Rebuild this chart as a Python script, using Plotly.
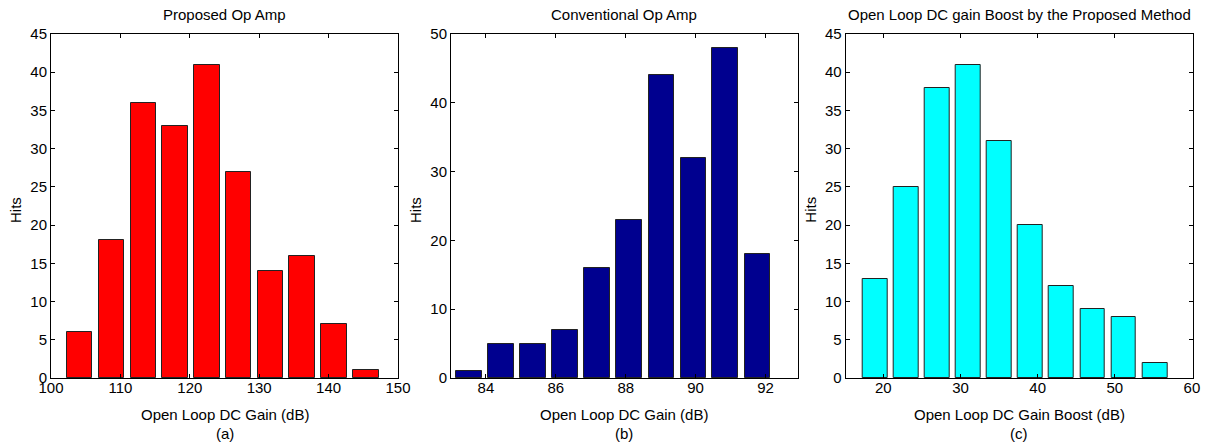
import plotly.graph_objects as go

# ---- data ----
bins_a = [104.1, 108.7, 113.3, 117.9, 122.5, 127.0, 131.6, 136.2, 140.8, 145.4]
hits_a = [6, 18, 36, 33, 41, 27, 14, 16, 7, 1]

bins_b = [83.51, 84.43, 85.35, 86.26, 87.18, 88.10, 89.02, 89.94, 90.85, 91.77]
hits_b = [1, 5, 5, 7, 16, 23, 44, 32, 48, 18]

bins_c = [18.92, 22.95, 26.98, 31.01, 35.04, 39.07, 43.10, 47.13, 51.16, 55.21]
hits_c = [13, 25, 38, 41, 31, 20, 12, 9, 8, 2]

titles = ["Proposed Op Amp", "Conventional Op Amp", "Open Loop DC gain Boost by the Proposed Method"]
xlabels = ["Open Loop DC Gain (dB)", "Open Loop DC Gain (dB)", "Open Loop DC Gain Boost (dB)"]
sublabels = ["(a)", "(b)", "(c)"]
ylabel = "Hits"

W, H = 1207, 446
FONT = "Liberation Sans, Arial, sans-serif"

fig = go.Figure()

panels = [
    dict(x=bins_a, y=hits_a, color="#FF0000", step=4.59, xd=(51, 398), xr=[100, 150], xt=[100, 110, 120, 130, 140, 150], yr=[0, 45], yd=5),
    dict(x=bins_b, y=hits_b, color="#00008F", step=0.918, xd=(451, 798), xr=[83.0, 92.93], xt=[84, 86, 88, 90, 92], yr=[0, 50], yd=10),
    dict(x=bins_c, y=hits_c, color="#00FFFF", step=4.03, xd=(845.7, 1192.7), xr=[15.12, 60.1], xt=[20, 30, 40, 50, 60], yr=[0, 45], yd=5),
]

y_top, y_bot = 34, 378
annotations = []
for i, p in enumerate(panels):
    n = "" if i == 0 else str(i + 1)
    fig.add_trace(go.Bar(
        x=p["x"], y=p["y"], width=0.8 * p["step"],
        marker=dict(color=p["color"], line=dict(color="#222222", width=1)),
        xaxis="x" + n, yaxis="y" + n, showlegend=False,
    ))
    axcommon = dict(showline=True, linecolor="black", linewidth=1, mirror="ticks",
                    ticks="inside", ticklen=4, tickcolor="black", showgrid=False,
                    zeroline=False, automargin=False,
                    tickfont=dict(family=FONT, size=15, color="black"))
    fig.update_layout(**{
        "xaxis" + n: dict(domain=[p["xd"][0] / W, p["xd"][1] / W], range=p["xr"],
                          tickvals=p["xt"], anchor="y" + n, ticklabelstandoff=-4, **axcommon),
        "yaxis" + n: dict(domain=[1 - y_bot / H, 1 - y_top / H], range=p["yr"],
                          dtick=p["yd"], tick0=0, anchor="x" + n, **axcommon),
    })
    cx = (p["xd"][0] + p["xd"][1]) / 2 / W
    common = dict(xref="paper", yref="paper", showarrow=False, xanchor="center",
                  yanchor="middle", font=dict(family=FONT, size=15, color="black"))
    annotations += [
        dict(text=titles[i], x=cx, y=1 - 15 / H, **common),
        dict(text=xlabels[i], x=cx, y=1 - 414 / H, **common),
        dict(text=sublabels[i], x=cx, y=1 - 433 / H, **common),
        dict(text=ylabel, x=(p["xd"][0] - 36) / W, y=1 - 210 / H, textangle=-90, **common),
    ]

fig.update_layout(
    template="none",
    width=W, height=H, margin=dict(l=0, r=0, t=0, b=0, pad=0),
    paper_bgcolor="white", plot_bgcolor="white",
    bargap=0, annotations=annotations,
)

fig.write_html("out.html")
